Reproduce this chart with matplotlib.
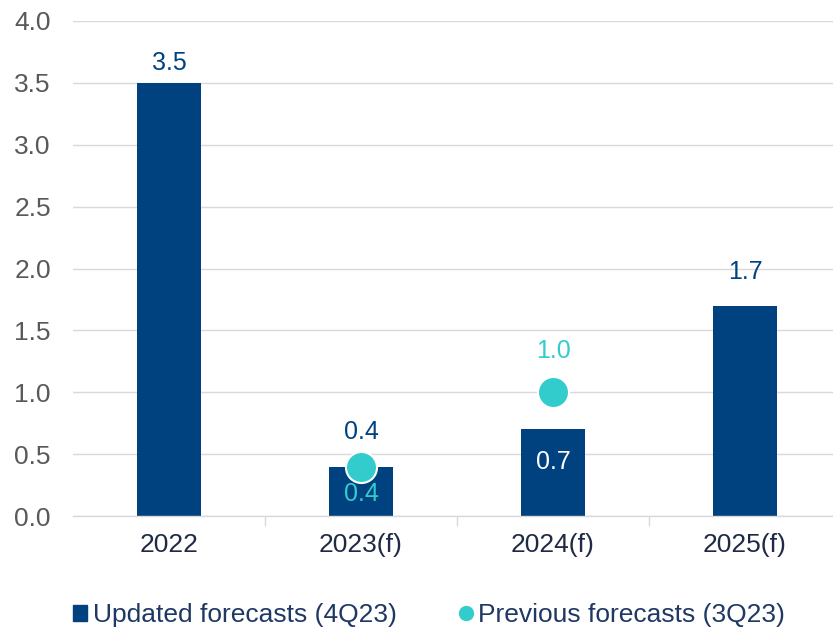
import matplotlib
matplotlib.use("Agg")
import matplotlib.pyplot as plt
from matplotlib.lines import Line2D
from matplotlib.patches import Patch

categories = ["2022", "2023(f)", "2024(f)", "2025(f)"]
updated = [3.5, 0.4, 0.7, 1.7]
previous = [None, 0.4, 1.0, None]
yticks = [0.0, 0.5, 1.0, 1.5, 2.0, 2.5, 3.0, 3.5, 4.0]

NAVY = "#00427F"
TEAL = "#33CCCC"
GRID = "#D9D9D9"

plt.rcParams["font.family"] = ["Liberation Sans", "DejaVu Sans"]

fig = plt.figure(figsize=(8.33, 6.30), dpi=100)
ax = fig.add_axes([73 / 833, 114 / 630, 768 / 833, 495 / 630])

x = list(range(len(categories)))
ax.bar(x, updated, width=0.333, color=NAVY, zorder=2)

px = [i for i, v in enumerate(previous) if v is not None]
pv = [v for v in previous if v is not None]
ax.scatter(px, pv, s=500, color=TEAL, edgecolor="white", linewidth=1.5, zorder=3)

# value labels for the updated forecasts
fs = 18
ax.text(0, updated[0] + 0.16, f"{updated[0]:.1f}", ha="center", va="center", color=NAVY, fontsize=fs)
ax.text(1, updated[1] + 0.28, f"{updated[1]:.1f}", ha="center", va="center", color=NAVY, fontsize=fs)
ax.text(2, updated[2] - 0.26, f"{updated[2]:.1f}", ha="center", va="center", color="white", fontsize=fs)
ax.text(3, updated[3] + 0.27, f"{updated[3]:.1f}", ha="center", va="center", color=NAVY, fontsize=fs)

# value labels for the previous forecasts
ax.text(1, previous[1] - 0.22, f"{previous[1]:.1f}", ha="center", va="center", color=TEAL, fontsize=fs)
ax.text(2, previous[2] + 0.33, f"{previous[2]:.1f}", ha="center", va="center", color=TEAL, fontsize=fs)

ax.set_xlim(-0.5, 3.5)
ax.set_ylim(0, 4.0)
ax.set_yticks(yticks)
ax.set_yticklabels([f"{v:.1f}" for v in yticks])
ax.set_xticks(x)
ax.set_xticklabels(categories)
ax.set_xticks([0.5, 1.5, 2.5, 3.5], minor=True)

ax.tick_params(axis="y", length=0, pad=16, labelsize=19, labelcolor="#595959")
ax.tick_params(axis="x", which="major", length=0, pad=12, labelsize=19, labelcolor="#1F2A44")
ax.tick_params(axis="x", which="minor", length=7, width=1, color=GRID)

ax.grid(axis="y", color=GRID, linewidth=1)
ax.set_axisbelow(True)
for side in ("top", "right", "left"):
    ax.spines[side].set_visible(False)
ax.spines["bottom"].set_color(GRID)
ax.spines["bottom"].set_linewidth(1)

handles = [
    Patch(facecolor=NAVY, edgecolor=NAVY, label="Updated forecasts (4Q23)"),
    Line2D([0], [0], marker="o", linestyle="none", markerfacecolor=TEAL,
           markeredgecolor=TEAL, markersize=10, label="Previous forecasts (3Q23)"),
]
fig.legend(handles=handles, loc="center", bbox_to_anchor=(429 / 833, 1 - 615 / 630),
           ncol=2, frameon=False, fontsize=19, labelcolor="#1F3864",
           handlelength=0.55, handleheight=0.55, handletextpad=0.2, columnspacing=2.35)

fig.savefig("out.png", dpi=100)
